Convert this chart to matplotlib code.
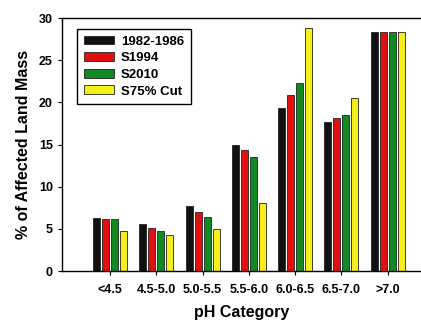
import matplotlib.pyplot as plt
import numpy as np

plt.rcParams['font.family'] = ['Liberation Sans', 'DejaVu Sans']
plt.rcParams['font.weight'] = 'bold'

categories = ['<4.5', '4.5-5.0', '5.0-5.5', '5.5-6.0', '6.0-6.5', '6.5-7.0', '>7.0']
series = ['1982-1986', 'S1994', 'S2010', 'S75% Cut']
colors = ['#111111', '#e01010', '#128a22', '#f5f01a']

v_1982 = [6.3, 5.6, 7.7, 15.0, 19.3, 17.7, 28.3]
v_s1994 = [6.2, 5.1, 7.0, 14.4, 20.9, 18.1, 28.3]
v_s2010 = [6.2, 4.8, 6.4, 13.5, 22.3, 18.5, 28.3]
v_s75 = [4.8, 4.3, 5.0, 8.1, 28.8, 20.5, 28.4]
values = [v_1982, v_s1994, v_s2010, v_s75]

fig = plt.figure(figsize=(4.21, 3.22), dpi=100)
ax = fig.add_axes([0.147, 0.158, 0.853, 0.786])

x = np.arange(len(categories))
step = 0.195
width = 0.15
for i, (name, vals, c) in enumerate(zip(series, values, colors)):
    ax.bar(x + (i - 1.5) * step, vals, width, color=c, edgecolor='#222222',
           linewidth=0.6, label=name)

ax.set_xlim(-1.04, 6.72)
ax.set_ylim(0, 30)
ax.set_yticks([0, 5, 10, 15, 20, 25, 30])
ax.set_xticks(x)
ax.set_xticklabels(categories)
ax.tick_params(axis='both', labelsize=9, direction='out', length=3, width=0.8)
ax.tick_params(axis='x', pad=6)

ax.spines['right'].set_visible(False)
for s in ['left', 'bottom', 'top']:
    ax.spines[s].set_linewidth(1.0)

ax.set_xlabel('pH Category', fontsize=11.5, fontweight='bold', labelpad=7)
ax.set_ylabel('% of Affected Land Mass', fontsize=11.5, fontweight='bold', labelpad=6)

leg = ax.legend(loc='upper left', bbox_to_anchor=(0.042, 0.957), borderaxespad=0,
                fontsize=9.5, handlelength=2.3, handleheight=0.65, handletextpad=0.55,
                labelspacing=0.35, borderpad=0.5, fancybox=False, edgecolor='black',
                framealpha=1)
leg.get_frame().set_linewidth(1.0)

fig.savefig('out.png', dpi=100)
